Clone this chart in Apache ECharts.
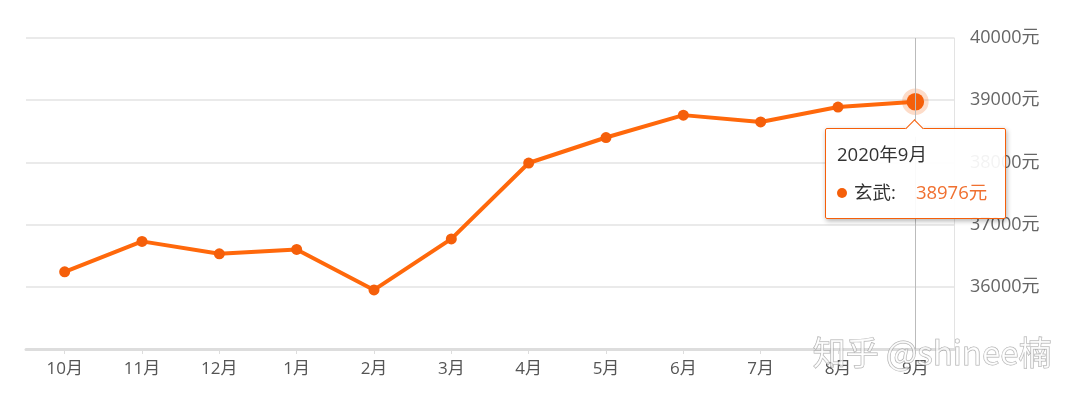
<!DOCTYPE html>
<html>
<head>
<meta charset="utf-8">
<script src="https://cdn.jsdelivr.net/npm/echarts@6/dist/echarts.min.js"></script>
<style>
html,body{margin:0;padding:0;background:#fff;}
#main{width:1080px;height:403px;}
</style>
</head>
<body>
<div id="main"></div>
<script>
const categories = ['10月','11月','12月','1月','2月','3月','4月','5月','6月','7月','8月','9月'];
const fullLabels = ['2019年10月','2019年11月','2019年12月','2020年1月','2020年2月','2020年3月','2020年4月','2020年5月','2020年6月','2020年7月','2020年8月','2020年9月'];
const seriesName = '玄武';
const values = [36240, 36730, 36530, 36600, 35950, 36770, 37990, 38400, 38760, 38650, 38890, 38976];
const yTicks = [35000, 36000, 37000, 38000, 39000, 40000];

const FONT = '"Open Sans", "Noto Sans CJK SC", sans-serif';
const chart = echarts.init(document.getElementById('main'));
const orange = '#F55F0A';
chart.setOption({
  animation: false,
  grid: {left: 26, right: 126, top: 38, bottom: 54},
  tooltip: {
    trigger: 'axis',
    alwaysShowContent: true,
    transitionDuration: 0,
    padding: 0,
    borderWidth: 0,
    backgroundColor: 'transparent',
    extraCssText: 'box-shadow:none;',
    axisPointer: {type: 'line', lineStyle: {color: '#bbb', width: 1, type: 'solid'}},
    position: function () { return [825, 128]; },
    formatter: function (params) {
      const p = params[0];
      const idx = p.dataIndex;
      return '<div style="position:relative;width:179px;height:89px;border:1px solid ' + orange + ';background:rgba(255,255,255,0.92);box-shadow:1px 2px 5px rgba(0,0,0,0.3);border-radius:2px;font-family:' + FONT.replace(/"/g, "'") + ';">' +
        '<div style="position:absolute;left:82px;top:-7px;width:12px;height:12px;background:#fff;border-left:1px solid ' + orange + ';border-top:1px solid ' + orange + ';transform:rotate(45deg);"></div>' +
        '<div style="position:absolute;left:11px;top:13px;font-size:18.5px;color:#333;line-height:24px;">' + fullLabels[idx] + '</div>' +
        '<div style="position:absolute;left:11px;top:51px;font-size:18.5px;color:#333;line-height:24px;white-space:nowrap;">' +
        '<span style="display:inline-block;width:10px;height:10px;border-radius:5px;background:' + orange + ';margin-right:7px;vertical-align:1px;"></span>' +
        seriesName + ':<span style="display:inline-block;width:20px;"></span><span style="color:#F07030;">' + p.value + '元</span></div>' +
        '</div>';
    }
  },
  xAxis: {
    type: 'category',
    data: categories,
    boundaryGap: true,
    axisLine: {show: true, lineStyle: {color: '#ddd', width: 3}},
    axisTick: {show: true, alignWithLabel: true, length: 5, lineStyle: {color: '#ddd'}},
    axisLabel: {color: '#555', fontSize: 17, margin: 12, fontFamily: FONT},
    splitLine: {show: false}
  },
  yAxis: {
    type: 'value',
    position: 'right',
    min: 35000,
    max: 40000,
    interval: 1000,
    axisLine: {show: true, lineStyle: {color: '#e3e3e3', width: 1}},
    axisTick: {show: false},
    axisLabel: {
      color: '#666', fontSize: 18, margin: 16, fontFamily: FONT,
      formatter: function (v) { return (v === yTicks[0]) ? '' : v + '元'; }
    },
    splitLine: {show: true, lineStyle: {color: '#e3e3e3', width: 1.5}}
  },
  series: [{
    name: seriesName,
    type: 'line',
    data: values,
    symbol: 'circle',
    symbolSize: 11,
    showAllSymbol: true,
    lineStyle: {color: orange, width: 4},
    itemStyle: {color: orange},
    emphasis: {
      scale: 1.6,
      itemStyle: {color: orange, borderColor: 'rgba(245,95,10,0.22)', borderWidth: 9}
    }
  }],
  graphic: [{
    type: 'text',
    right: 28,
    top: 335,
    z: 100,
    style: {
      text: '知乎 @shinee楠',
      font: '33px "Noto Sans CJK SC", sans-serif',
      fill: 'rgba(255,255,255,0.7)',
      stroke: 'rgba(140,140,140,0.75)',
      lineWidth: 1
    }
  }]
});
chart.dispatchAction({type: 'showTip', seriesIndex: 0, dataIndex: 11});
chart.dispatchAction({type: 'highlight', seriesIndex: 0, dataIndex: 11});
</script>
</body>
</html>
